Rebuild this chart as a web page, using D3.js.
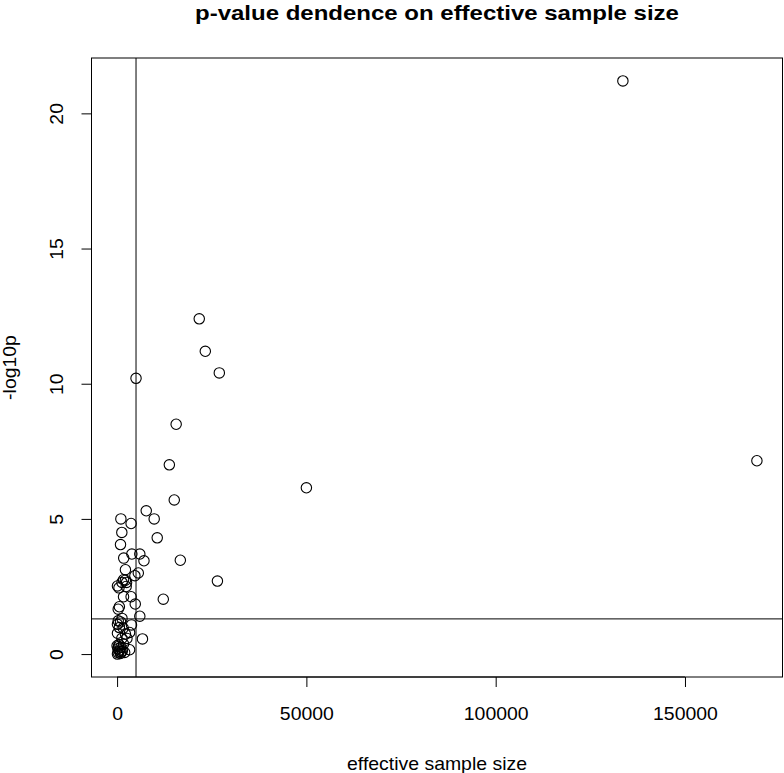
<!DOCTYPE html>
<html><head><meta charset="utf-8">
<script src="https://cdn.jsdelivr.net/npm/d3@7"></script>
<style>body{margin:0;background:#fff}svg{display:block}text{font-family:"Liberation Sans",Arial,sans-serif;fill:#000}</style>
</head><body>
<script>
const sampleSize = [133600,169000,21700,23300,27000,5000,15600,13800,50000,15100,7700,9800,1000,3700,1250,10600,900,3900,6000,1750,7100,16700,2200,5600,4700,1700,2200,2500,1300,26500,100,2400,500,1700,3700,12200,4800,600,300,6000,1300,300,900,100,3800,600,1600,100,2200,3300,6700,1250,2600,1700,0,3300,2000,200,600,1000,300,900,500,1400,100,700,400,1100];
const negLog10p = [21.2,7.15,12.4,11.2,10.4,10.2,8.5,7.0,6.15,5.7,5.3,5.0,5.0,4.83,4.5,4.3,4.05,3.7,3.7,3.55,3.45,3.47,3.12,3.0,2.9,2.75,2.73,2.65,2.65,2.7,2.52,2.5,2.45,2.12,2.12,2.03,1.85,1.75,1.66,1.4,1.32,1.23,1.19,1.1,1.08,0.98,0.96,0.77,0.74,0.8,0.56,0.58,0.58,0.37,0.31,0.16,0.06,0.2,0.1,0.25,0.05,0.02,0.35,0.12,0.0,0.15,0.28,0.08];
const xTicks = [0,50000,100000,150000];
const yTicks = [0,5,10,15,20];
const vLine = 5000;
const hLine = -Math.log10(0.05);
const title = "p-value dendence on effective sample size";
const xLabel = "effective sample size";
const yLabel = "-log10p";

const W=784,H=773, L=91.5, R=782.5, T=58, B=677;
const FONT="Liberation Sans, Arial, sans-serif";
const svg=d3.select("body").append("svg").attr("width",W).attr("height",H);
function pad(ext){const r=ext[1]-ext[0];return [ext[0]-0.04*r, ext[1]+0.04*r];}
const x=d3.scaleLinear().domain(pad(d3.extent(sampleSize))).range([L,R]);
const y=d3.scaleLinear().domain(pad(d3.extent(negLog10p))).range([B,T]);

// axes
const xAxis=d3.axisBottom(x).tickValues(xTicks).tickSize(10).tickPadding(20).tickFormat(d3.format("d"));
const gx=svg.append("g").attr("transform",`translate(0,${B})`).call(xAxis);
gx.select(".domain").attr("d",`M${x(xTicks[0])},0H${x(xTicks[xTicks.length-1])}`);
gx.selectAll(".tick text").style("font-size","18px").style("font-family",FONT).attr("transform","scale(1.08,1)");
const yAxis=d3.axisLeft(y).tickValues(yTicks).tickSize(10).tickPadding(0);
const gy=svg.append("g").attr("transform",`translate(${L},0)`).call(yAxis);
gy.select(".domain").attr("d",`M0,${y(yTicks[0])}V${y(yTicks[yTicks.length-1])}`);
gy.selectAll(".tick text").attr("x",null).attr("dy",null).attr("text-anchor","middle")
  .attr("transform","translate(-28.5,0) rotate(-90) scale(1.08,1)")
  .style("font-size","18px").style("font-family",FONT);

// box
svg.append("rect").attr("x",L).attr("y",T).attr("width",R-L).attr("height",B-T).attr("fill","none").attr("stroke","#000").attr("stroke-width",1);

// reference lines
svg.append("line").attr("x1",x(vLine)).attr("x2",x(vLine)).attr("y1",T).attr("y2",B).attr("stroke","#000");
svg.append("line").attr("x1",L).attr("x2",R).attr("y1",y(hLine)).attr("y2",y(hLine)).attr("stroke","#000");

// points
svg.append("g").selectAll("circle").data(sampleSize.map((d,i)=>[d,negLog10p[i]])).join("circle")
  .attr("cx",d=>x(d[0])).attr("cy",d=>y(d[1])).attr("r",5.2).attr("fill","none").attr("stroke","#000").attr("stroke-width",1.1);

// labels
svg.append("text").attr("transform",`translate(${(L+R)/2},20) scale(1.2,1)`).attr("text-anchor","middle").style("font-size","20px").style("font-weight","bold").text(title);
svg.append("text").attr("transform",`translate(${(L+R)/2},770) scale(1.08,1)`).attr("text-anchor","middle").style("font-size","18px").text(xLabel);
svg.append("text").attr("transform",`translate(16,${(T+B)/2}) rotate(-90) scale(1.08,1)`).attr("text-anchor","middle").style("font-size","18px").text(yLabel);
</script>
</body></html>
